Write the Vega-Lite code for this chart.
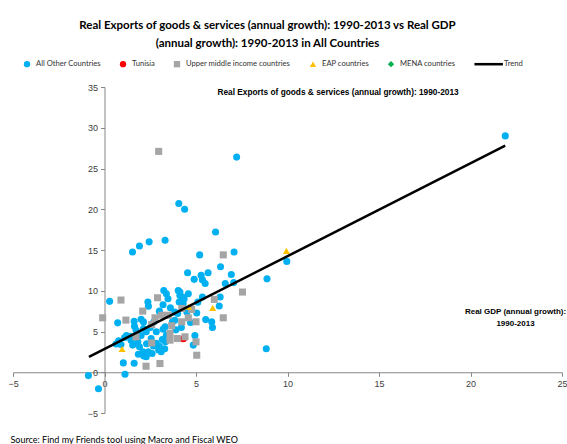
{
  "$schema": "https://vega.github.io/schema/vega-lite/v6.json",
  "width": 549,
  "height": 326,
  "autosize": {"type": "none"},
  "padding": {"left": 13, "top": 87, "right": 5, "bottom": 31},
  "background": "white",
  "config": {"view": {"stroke": null}, "font": "Liberation Sans"},
  "title": {
    "text": ["Real Exports of goods & services (annual growth): 1990-2013  vs  Real GDP", "(annual growth): 1990-2013 in All Countries"],
    "font": "Lato",
    "fontSize": 11.5,
    "fontWeight": "bold",
    "color": "#000000",
    "anchor": "middle",
    "frame": "group",
    "dx": -20,
    "offset": 11,
    "lineHeight": 18
  },
  "datasets": {
    "points": [
      {"gdp": 21.9, "exports": 29.0, "group": "All Other Countries"},
      {"gdp": 7.22, "exports": 26.4, "group": "All Other Countries"},
      {"gdp": 4.06, "exports": 20.7, "group": "All Other Countries"},
      {"gdp": 4.38, "exports": 20.0, "group": "All Other Countries"},
      {"gdp": 6.07, "exports": 17.2, "group": "All Other Countries"},
      {"gdp": 3.31, "exports": 16.2, "group": "All Other Countries"},
      {"gdp": 2.44, "exports": 16.0, "group": "All Other Countries"},
      {"gdp": 1.91, "exports": 15.5, "group": "All Other Countries"},
      {"gdp": 1.53, "exports": 14.75, "group": "All Other Countries"},
      {"gdp": 5.2, "exports": 14.4, "group": "All Other Countries"},
      {"gdp": 7.08, "exports": 14.75, "group": "All Other Countries"},
      {"gdp": 9.96, "exports": 13.6, "group": "All Other Countries"},
      {"gdp": 6.34, "exports": 12.95, "group": "All Other Countries"},
      {"gdp": 4.54, "exports": 12.2, "group": "All Other Countries"},
      {"gdp": 5.66, "exports": 12.2, "group": "All Other Countries"},
      {"gdp": 5.28, "exports": 11.9, "group": "All Other Countries"},
      {"gdp": 6.93, "exports": 12.0, "group": "All Other Countries"},
      {"gdp": 5.35, "exports": 11.35, "group": "All Other Countries"},
      {"gdp": 5.5, "exports": 10.9, "group": "All Other Countries"},
      {"gdp": 7.06, "exports": 11.0, "group": "All Other Countries"},
      {"gdp": 6.6, "exports": 10.9, "group": "All Other Countries"},
      {"gdp": 8.88, "exports": 11.46, "group": "All Other Countries"},
      {"gdp": 8.84, "exports": 2.89, "group": "All Other Countries"},
      {"gdp": 6.32, "exports": 9.23, "group": "All Other Countries"},
      {"gdp": 6.27, "exports": 8.13, "group": "All Other Countries"},
      {"gdp": 5.86, "exports": 6.18, "group": "All Other Countries"},
      {"gdp": 5.9, "exports": 5.49, "group": "All Other Countries"},
      {"gdp": 5.53, "exports": 6.46, "group": "All Other Countries"},
      {"gdp": 5.35, "exports": 9.23, "group": "All Other Countries"},
      {"gdp": 5.04, "exports": 7.28, "group": "All Other Countries"},
      {"gdp": 4.94, "exports": 4.5, "group": "All Other Countries"},
      {"gdp": 4.85, "exports": 3.33, "group": "All Other Countries"},
      {"gdp": 4.58, "exports": 9.63, "group": "All Other Countries"},
      {"gdp": 4.12, "exports": 9.84, "group": "All Other Countries"},
      {"gdp": 4.08, "exports": 8.62, "group": "All Other Countries"},
      {"gdp": 4.35, "exports": 9.0, "group": "All Other Countries"},
      {"gdp": 3.84, "exports": 7.4, "group": "All Other Countries"},
      {"gdp": 0.28, "exports": 8.7, "group": "All Other Countries"},
      {"gdp": 0.72, "exports": 6.06, "group": "All Other Countries"},
      {"gdp": 0.63, "exports": 3.46, "group": "All Other Countries"},
      {"gdp": 0.77, "exports": 3.86, "group": "All Other Countries"},
      {"gdp": 1.12, "exports": -0.24, "group": "All Other Countries"},
      {"gdp": -0.88, "exports": -0.41, "group": "All Other Countries"},
      {"gdp": -0.33, "exports": -2.03, "group": "All Other Countries"},
      {"gdp": 1.03, "exports": 1.15, "group": "All Other Countries"},
      {"gdp": 1.1, "exports": 4.27, "group": "All Other Countries"},
      {"gdp": 1.2, "exports": 4.5, "group": "All Other Countries"},
      {"gdp": 1.62, "exports": 6.26, "group": "All Other Countries"},
      {"gdp": 1.64, "exports": 5.65, "group": "All Other Countries"},
      {"gdp": 1.73, "exports": 5.16, "group": "All Other Countries"},
      {"gdp": 1.45, "exports": 3.94, "group": "All Other Countries"},
      {"gdp": 1.82, "exports": 3.74, "group": "All Other Countries"},
      {"gdp": 1.91, "exports": 3.13, "group": "All Other Countries"},
      {"gdp": 2.1, "exports": 2.52, "group": "All Other Countries"},
      {"gdp": 2.15, "exports": 1.99, "group": "All Other Countries"},
      {"gdp": 2.28, "exports": 1.91, "group": "All Other Countries"},
      {"gdp": 2.4, "exports": 2.52, "group": "All Other Countries"},
      {"gdp": 2.37, "exports": 8.62, "group": "All Other Countries"},
      {"gdp": 2.4, "exports": 8.09, "group": "All Other Countries"},
      {"gdp": 2.13, "exports": 6.18, "group": "All Other Countries"},
      {"gdp": 2.13, "exports": 5.37, "group": "All Other Countries"},
      {"gdp": 2.28, "exports": 4.96, "group": "All Other Countries"},
      {"gdp": 2.55, "exports": 4.15, "group": "All Other Countries"},
      {"gdp": 2.68, "exports": 3.21, "group": "All Other Countries"},
      {"gdp": 2.83, "exports": 3.54, "group": "All Other Countries"},
      {"gdp": 2.96, "exports": 2.72, "group": "All Other Countries"},
      {"gdp": 3.1, "exports": 2.52, "group": "All Other Countries"},
      {"gdp": 3.29, "exports": 2.89, "group": "All Other Countries"},
      {"gdp": 3.33, "exports": 3.74, "group": "All Other Countries"},
      {"gdp": 3.16, "exports": 4.02, "group": "All Other Countries"},
      {"gdp": 3.2, "exports": 5.28, "group": "All Other Countries"},
      {"gdp": 3.31, "exports": 5.57, "group": "All Other Countries"},
      {"gdp": 3.2, "exports": 8.29, "group": "All Other Countries"},
      {"gdp": 3.24, "exports": 10.04, "group": "All Other Countries"},
      {"gdp": 3.38, "exports": 9.63, "group": "All Other Countries"},
      {"gdp": 3.47, "exports": 9.02, "group": "All Other Countries"},
      {"gdp": 3.71, "exports": 6.18, "group": "All Other Countries"},
      {"gdp": 3.84, "exports": 6.38, "group": "All Other Countries"},
      {"gdp": 4.03, "exports": 10.04, "group": "All Other Countries"},
      {"gdp": 4.12, "exports": 9.43, "group": "All Other Countries"},
      {"gdp": 4.26, "exports": 9.23, "group": "All Other Countries"},
      {"gdp": 4.3, "exports": 8.41, "group": "All Other Countries"},
      {"gdp": 3.38, "exports": 4.55, "group": "All Other Countries"},
      {"gdp": 2.83, "exports": 4.96, "group": "All Other Countries"},
      {"gdp": 1.54, "exports": 3.33, "group": "All Other Countries"},
      {"gdp": 1.62, "exports": 1.1, "group": "All Other Countries"},
      {"gdp": 1.85, "exports": 2.2, "group": "All Other Countries"},
      {"gdp": 2.0, "exports": 4.5, "group": "All Other Countries"},
      {"gdp": 2.5, "exports": 5.5, "group": "All Other Countries"},
      {"gdp": 2.7, "exports": 6.2, "group": "All Other Countries"},
      {"gdp": 3.0, "exports": 7.5, "group": "All Other Countries"},
      {"gdp": 3.6, "exports": 7.9, "group": "All Other Countries"},
      {"gdp": 4.0, "exports": 7.2, "group": "All Other Countries"},
      {"gdp": 4.5, "exports": 7.4, "group": "All Other Countries"},
      {"gdp": 4.7, "exports": 6.1, "group": "All Other Countries"},
      {"gdp": 4.2, "exports": 5.5, "group": "All Other Countries"},
      {"gdp": 3.9, "exports": 5.2, "group": "All Other Countries"},
      {"gdp": 3.0, "exports": 3.2, "group": "All Other Countries"},
      {"gdp": 2.3, "exports": 3.5, "group": "All Other Countries"},
      {"gdp": 2.6, "exports": 2.3, "group": "All Other Countries"},
      {"gdp": 1.4, "exports": 4.4, "group": "All Other Countries"},
      {"gdp": 0.9, "exports": 3.4, "group": "All Other Countries"},
      {"gdp": 2.0, "exports": 6.5, "group": "All Other Countries"},
      {"gdp": 4.9, "exports": 11.4, "group": "All Other Countries"},
      {"gdp": 5.1, "exports": 8.6, "group": "All Other Countries"},
      {"gdp": 1.8, "exports": 4.6, "group": "All Other Countries"},
      {"gdp": 4.31, "exports": 4.1, "group": "Tunisia"},
      {"gdp": 2.96, "exports": 27.1, "group": "Upper middle income countries"},
      {"gdp": 6.49, "exports": 14.4, "group": "Upper middle income countries"},
      {"gdp": 7.54, "exports": 9.84, "group": "Upper middle income countries"},
      {"gdp": 6.0, "exports": 8.94, "group": "Upper middle income countries"},
      {"gdp": 6.49, "exports": 6.68, "group": "Upper middle income countries"},
      {"gdp": 5.0, "exports": 6.19, "group": "Upper middle income countries"},
      {"gdp": 5.0, "exports": 3.73, "group": "Upper middle income countries"},
      {"gdp": 5.04, "exports": 2.09, "group": "Upper middle income countries"},
      {"gdp": 4.58, "exports": 6.68, "group": "Upper middle income countries"},
      {"gdp": 4.22, "exports": 7.83, "group": "Upper middle income countries"},
      {"gdp": 4.22, "exports": 6.19, "group": "Upper middle income countries"},
      {"gdp": 4.4, "exports": 4.35, "group": "Upper middle income countries"},
      {"gdp": 3.98, "exports": 4.14, "group": "Upper middle income countries"},
      {"gdp": 3.58, "exports": 3.94, "group": "Upper middle income countries"},
      {"gdp": 3.58, "exports": 4.76, "group": "Upper middle income countries"},
      {"gdp": 3.67, "exports": 5.7, "group": "Upper middle income countries"},
      {"gdp": 3.49, "exports": 7.0, "group": "Upper middle income countries"},
      {"gdp": 3.12, "exports": 7.0, "group": "Upper middle income countries"},
      {"gdp": 2.9, "exports": 9.14, "group": "Upper middle income countries"},
      {"gdp": 2.76, "exports": 6.68, "group": "Upper middle income countries"},
      {"gdp": 2.58, "exports": 5.86, "group": "Upper middle income countries"},
      {"gdp": 2.58, "exports": 3.6, "group": "Upper middle income countries"},
      {"gdp": 3.03, "exports": 1.07, "group": "Upper middle income countries"},
      {"gdp": 2.27, "exports": 0.74, "group": "Upper middle income countries"},
      {"gdp": 2.09, "exports": 7.5, "group": "Upper middle income countries"},
      {"gdp": 1.72, "exports": 4.35, "group": "Upper middle income countries"},
      {"gdp": 1.17, "exports": 6.4, "group": "Upper middle income countries"},
      {"gdp": 0.9, "exports": 8.86, "group": "Upper middle income countries"},
      {"gdp": -0.1, "exports": 6.68, "group": "Upper middle income countries"},
      {"gdp": 4.76, "exports": 7.71, "group": "Upper middle income countries"},
      {"gdp": 0.96, "exports": 2.85, "group": "EAP countries"},
      {"gdp": 4.6, "exports": 8.03, "group": "EAP countries"},
      {"gdp": 5.91, "exports": 7.9, "group": "EAP countries"},
      {"gdp": 9.94, "exports": 14.9, "group": "EAP countries"}
    ],
    "trend": [
      {"gdp": -0.85, "exports": 1.88},
      {"gdp": 21.9, "exports": 27.8}
    ]
  },
  "layer": [
    {
      "data": {"name": "points"},
      "mark": {"type": "point", "filled": true, "opacity": 1, "size": 50},
      "encoding": {
        "x": {
          "field": "gdp", "type": "quantitative",
          "scale": {"domain": [-5, 25], "nice": false, "zero": false},
          "axis": {
            "orient": "bottom", "offset": -40.75, "values": [-5, 0, 5, 10, 15, 20, 25],
            "grid": false, "domainColor": "#868686", "tickColor": "#868686", "tickSize": 4,
            "labelFontSize": 9, "labelColor": "#404040", "labelPadding": 3, "labelFlush": false, "labelOverlap": false,
            "title": ["Real GDP (annual growth):", "1990-2013"],
            "titleFont": "Liberation Sans", "titleFontSize": 8, "titleFontWeight": "bold", "titleColor": "#000000",
            "titleX": 502, "titleY": -65, "titleAlign": "center", "titleBaseline": "top", "titleLineHeight": 12
          }
        },
        "y": {
          "field": "exports", "type": "quantitative",
          "scale": {"domain": [-5, 35], "nice": false, "zero": false},
          "axis": {
            "orient": "left", "offset": -91.5, "values": [-5, 0, 5, 10, 15, 20, 25, 30, 35],
            "grid": false, "domainColor": "#868686", "tickColor": "#868686", "tickSize": 4,
            "labelFontSize": 9, "labelColor": "#404040", "labelPadding": 3, "labelFlush": false, "labelOverlap": false,
            "title": "Real Exports of goods & services (annual growth): 1990-2013",
            "titleFont": "Liberation Sans", "titleFontSize": 8.3, "titleFontWeight": "bold", "titleColor": "#000000",
            "titleAngle": 0, "titleX": 112.5, "titleY": 5, "titleAlign": "left", "titleBaseline": "middle"
          }
        },
        "color": {
          "field": "group", "type": "nominal",
          "scale": {
            "domain": ["All Other Countries", "Tunisia", "Upper middle income countries", "EAP countries", "MENA countries", "Trend"],
            "range": ["#00B0F0", "#FF0000", "#A5A5A5", "#FFC000", "#00B050", "#000000"]
          },
          "legend": {
            "orient": "none", "legendX": 10, "legendY": -27, "direction": "horizontal", "columns": 6,
            "columnPadding": 18, "symbolSize": 40, "labelFont": "Lato", "labelFontSize": 7.6,
            "labelColor": "#333333", "labelOffset": 5, "title": null, "padding": 0,
            "labelExpr": "datum.label == 'MENA countries' ? 'MENA countries\u00a0\u00a0' : datum.label"
          }
        },
        "shape": {
          "field": "group", "type": "nominal",
          "scale": {
            "domain": ["All Other Countries", "Tunisia", "Upper middle income countries", "EAP countries", "MENA countries", "Trend"],
            "range": ["circle", "circle", "square", "triangle-up", "diamond", "M-6.5,-0.4H2.5V0.4H-6.5Z"]
          },
          "legend": {
            "orient": "none", "legendX": 10, "legendY": -27, "direction": "horizontal", "columns": 6,
            "columnPadding": 18, "symbolSize": 40, "labelFont": "Lato", "labelFontSize": 7.6,
            "labelColor": "#333333", "labelOffset": 5, "title": null, "padding": 0,
            "labelExpr": "datum.label == 'MENA countries' ? 'MENA countries\u00a0\u00a0' : datum.label"
          }
        }
      }
    },
    {
      "data": {"name": "trend"},
      "mark": {"type": "line", "color": "#000000", "strokeWidth": 2.5},
      "encoding": {
        "x": {
          "field": "gdp", "type": "quantitative",
          "axis": {
            "orient": "bottom", "offset": 0, "domain": false, "ticks": false, "labels": false, "grid": false,
            "title": "Source: Find my Friends tool using Macro  and  Fiscal  WEO",
            "titleFont": "Lato", "titleFontSize": 9, "titleFontWeight": "normal", "titleColor": "#000000",
            "titleX": -3, "titleY": 26, "titleAlign": "left", "titleBaseline": "middle"
          }
        },
        "y": {"field": "exports", "type": "quantitative"}
      }
    }
  ],
  "resolve": {"axis": {"x": "independent"}}
}
